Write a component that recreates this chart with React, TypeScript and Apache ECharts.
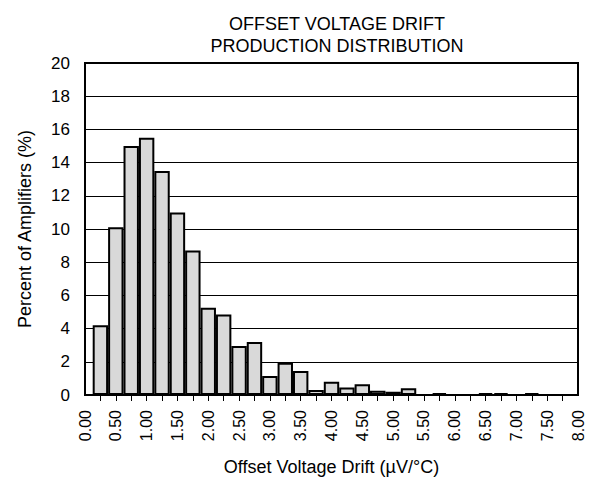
import React, { useEffect, useRef } from "react";
import * as echarts from "echarts";

const titleLines = ["OFFSET VOLTAGE DRIFT", "PRODUCTION DISTRIBUTION"];
const xAxisName = "Offset Voltage Drift (µV/°C)";
const yAxisName = "Percent of Amplifiers (%)";

// bin positions 0.00 .. 8.00 in steps of 0.25 (labels shown every 0.50)
const binEdges = [
  "0.00", "0.25", "0.50", "0.75", "1.00", "1.25", "1.50", "1.75", "2.00", "2.25", "2.50",
  "2.75", "3.00", "3.25", "3.50", "3.75", "4.00", "4.25", "4.50", "4.75", "5.00",
  "5.25", "5.50", "5.75", "6.00", "6.25", "6.50", "6.75", "7.00", "7.25", "7.50",
  "7.75", "8.00",
];

// percent of amplifiers, bins centred at 0.25 .. 7.75
const percentValues = [
  4.2, 10.1, 15.0, 15.5, 13.5, 11.0, 8.7, 5.25, 4.85, 2.95, 3.2, 1.15, 1.95, 1.45,
  0.3, 0.8, 0.45, 0.65, 0.25, 0.2, 0.4, 0, 0.12, 0, 0, 0.12, 0.12, 0, 0.12, 0, 0,
];

const yTicks = { min: 0, max: 20, interval: 2 };

export default function App() {
  const ref = useRef<HTMLDivElement>(null);
  useEffect(() => {
    if (!ref.current) return;
    const chart = echarts.init(ref.current, null, { renderer: "svg" });
    const seriesData: (number | string)[] = ["-", ...percentValues, "-"];
    const font = "Liberation Sans, Arial, sans-serif";
    chart.setOption({
      animation: false,
      backgroundColor: "#fff",
      textStyle: { fontFamily: font },
      title: {
        text: titleLines.join("\n"),
        left: 324,
        textAlign: "center",
        top: 0,
        textStyle: {
          fontSize: 18,
          fontWeight: "normal",
          color: "#000",
          lineHeight: 22,
          fontFamily: font,
        },
      },
      grid: {
        left: 74,
        right: 10,
        top: 55,
        bottom: 82,
        show: true,
        borderColor: "#000",
        borderWidth: 2,
        backgroundColor: "#fff",
      },
      xAxis: {
        type: "category",
        data: binEdges,
        boundaryGap: false,
        name: xAxisName,
        nameLocation: "middle",
        nameGap: 63,
        nameTextStyle: { fontSize: 18, color: "#000", fontFamily: font },
        axisLine: { lineStyle: { color: "#000", width: 2 } },
        axisTick: {
          show: true,
          interval: (i: number) => i > 0 && i < binEdges.length - 1,
          length: 6,
          lineStyle: { color: "#000", width: 1 },
        },
        axisLabel: {
          interval: 1,
          rotate: 90,
          margin: 15,
          fontSize: 16,
          color: "#000",
          fontFamily: font,
        },
        splitLine: { show: false },
      },
      yAxis: {
        type: "value",
        min: yTicks.min,
        max: yTicks.max,
        interval: yTicks.interval,
        name: yAxisName,
        nameLocation: "middle",
        nameGap: 51,
        nameTextStyle: { fontSize: 18, color: "#000", fontFamily: font },
        axisLine: { show: true, lineStyle: { color: "#000", width: 2 } },
        axisTick: { show: false },
        axisLabel: { fontSize: 17, color: "#000", margin: 15, fontFamily: font },
        splitLine: { show: true, lineStyle: { color: "#000", width: 1 } },
      },
      series: [
        {
          type: "bar",
          data: seriesData,
          barCategoryGap: "0%",
          itemStyle: { color: "#d9d9d9", borderColor: "#000", borderWidth: 2 },
        },
      ],
    });
    return () => chart.dispose();
  }, []);
  return <div ref={ref} style={{ width: 580, height: 473 }} />;
}
